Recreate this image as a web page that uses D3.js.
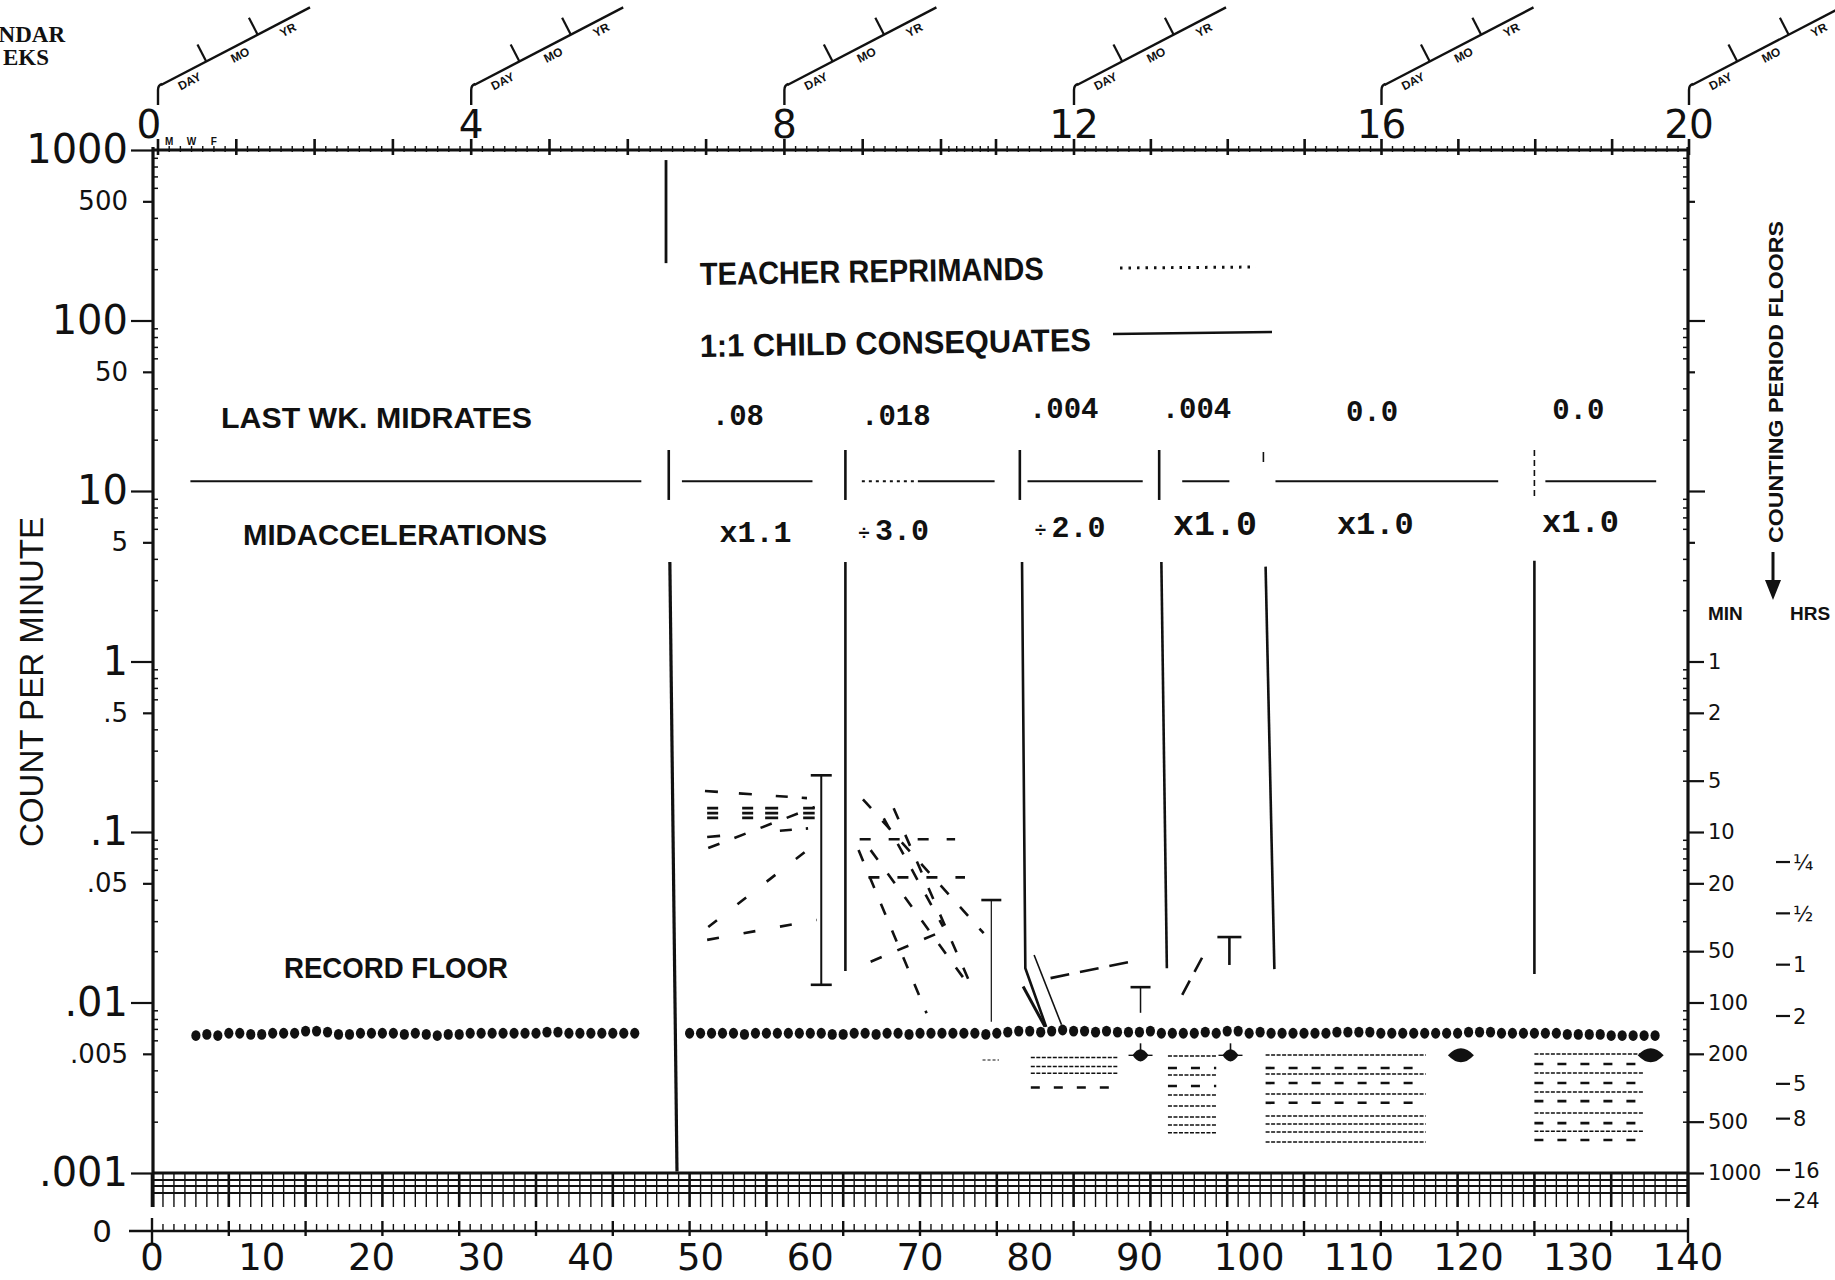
<!DOCTYPE html>
<html>
<head>
<meta charset="utf-8">
<script src="https://cdn.jsdelivr.net/npm/d3@7/dist/d3.min.js"></script>
<style>
  html, body { margin:0; padding:0; background:#fff; }
  svg { display:block; }
</style>
</head>
<body>
<svg id="chart" width="1835" height="1280" xmlns="http://www.w3.org/2000/svg"></svg>
<script>
// ================= DATA =================
// calendar weeks (top axis) and successive days (bottom axis)
const weekLabels = [0, 4, 8, 12, 16, 20];
const dayLabels = [0, 10, 20, 30, 40, 50, 60, 70, 80, 90, 100, 110, 120, 130, 140];
const weekdayLetters = ["M", "W", "F"];
const weekdayDays = [1, 3, 5];

// count-per-minute axis
const decadeValues = [1000, 100, 10, 1, 0.1, 0.01, 0.001];
const decadeLabels = ["1000", "100", "10", "1", ".1", ".01", ".001"];
const halfValues = [500, 50, 5, 0.5, 0.05, 0.005];
const halfLabels = ["500", "50", "5", ".5", ".05", ".005"];

// counting period floors (right axis)
const floorMinValues = [1, 0.5, 0.2, 0.1, 0.05, 0.02, 0.01, 0.005, 0.002, 0.001];
const floorMinLabels = ["1", "2", "5", "10", "20", "50", "100", "200", "500", "1000"];
const floorHrsMinutes = [15, 30, 60, 120, 300, 480, 960, 1440];
const floorHrsLabels = ["¼", "½", "1", "2", "5", "8", "16", "24"];

// record-floor dots (day, count per minute)
const dotDaysA = [4,5,6,7,8,9,10,11,12,13,14,15,16,17,18,19,20,21,22,23,24,25,26,27,28,29,30,31,32,33,34,35,36,37,38,39,40,41,42,43,44];
const dotValsA = [0.0064,0.0065,0.0064,0.0066,0.0066,0.0065,0.0065,0.0066,0.0066,0.0066,
                  0.0068,0.0068,0.0067,0.0065,0.0065,0.0066,0.0066,0.0066,0.0066,0.0065,
                  0.0066,0.0065,0.0064,0.0065,0.0065,0.0066,0.0066,0.0066,0.0066,0.0066,
                  0.0066,0.0066,0.0067,0.0067,0.0066,0.0066,0.0066,0.0066,0.0066,0.0066,
                  0.0066];
const dotDaysB = [49,50,51,52,53,54,55,56,57,58,59,60,61,62,63,64,65,66,67,68,69,70,71,72,73,74,75,76,77,78,
                  79,80,81,82,83,84,85,86,87,88,89,90,91,92,93,94,95,96,97,98,99,100,101,102,103,104,105,106,107,108,
                  109,110,111,112,113,114,115,116,117,118,119,120,121,122,123,124,125,126,127,128,129,130,131,132,133,134,135,136,137];
const dotValsB = [0.0066,0.0066,0.0066,0.0066,0.0066,0.0065,0.0066,0.0066,0.0066,0.0066,
                  0.0066,0.0066,0.0066,0.0065,0.0065,0.0066,0.0066,0.0065,0.0066,0.0066,
                  0.0065,0.0066,0.0066,0.0066,0.0066,0.0066,0.0066,0.0065,0.0066,0.0067,
                  0.0068,0.0068,0.0067,0.0068,0.0069,0.0068,0.0068,0.0067,0.0068,0.0067,
                  0.0067,0.0067,0.0068,0.0066,0.0066,0.0066,0.0066,0.0067,0.0066,0.0068,
                  0.0068,0.0066,0.0067,0.0066,0.0066,0.0066,0.0066,0.0066,0.0066,0.0067,
                  0.0067,0.0067,0.0067,0.0066,0.0066,0.0066,0.0066,0.0066,0.0066,0.0066,
                  0.0066,0.0067,0.0067,0.0067,0.0066,0.0066,0.0066,0.0066,0.0066,0.0066,
                  0.0065,0.0065,0.0065,0.0065,0.0064,0.0064,0.0064,0.0064,0.0064];

// counting-period floor marks
const floorMarkDays = [90.1, 98.3, 119.3, 136.6];
const floorMarkVals = [0.0049, 0.0049, 0.0049, 0.0049];

// range bars (day, high, low)
const rangeDays = [61.0, 76.5, 90.1, 98.2];
const rangeHigh = [0.215, 0.0399, 0.0123, 0.0242];
const rangeLow  = [0.0127, 0.0077, 0.0087, 0.0166];

// phase change lines
const phaseLineUpper = [[46.85, 873], [46.85, 217]];
const phaseLinesLower = [
  [[47.2, 3.83], [47.85, 0.00102]],
  [[63.2, 3.83], [63.2, 0.0153]],
  [[79.3, 3.83], [79.6, 0.0159], [81.5, 0.0072]],
  [[92.0, 3.83], [92.5, 0.0159]],
  [[101.5, 3.6], [102.3, 0.0157]],
  [[126.0, 3.9], [126.0, 0.0147]]
];
const phaseZigzag = [
  [[79.4, 0.0124], [81.4, 0.0072]],
  [[80.4, 0.0190], [82.9, 0.0074]]
];
const phaseChangeDays = [47.1, 63.2, 79.1, 91.8, 101.3, 126.0];
const separatorTop = 17.4, separatorBottom = 8.86;

// midrate row
const midrateSegments = [[3.5, 44.6], [48.3, 60.2], [64.7, 76.8], [79.8, 90.3], [93.9, 98.2], [102.4, 122.7], [127.0, 137.1]];
const midrateLineValue = 11.4;
const midrateLabels = [".08", ".018", ".004", ".004", "0.0", "0.0"];
const midrateLabelDays = [53.4, 67.8, 83.1, 95.2, 111.2, 130.0];
const accelSign = ["x", "÷", "÷", "x", "x", "x"];
const accelValue = ["1.1", "3.0", "2.0", "1.0", "1.0", "1.0"];
const accelLabelDays = [55.0, 67.6, 83.7, 96.9, 111.5, 130.2];

// dashed trend lines, phase 1 (days 50-61)
const phase1Lines = [
  [[50.4, 0.174], [59.7, 0.158]],
  [[50.6, 0.138], [60.4, 0.138]],
  [[50.6, 0.129], [60.4, 0.129]],
  [[50.6, 0.121], [60.4, 0.121]],
  [[50.6, 0.0935], [59.8, 0.105]],
  [[50.7, 0.0806], [60.4, 0.140]],
  [[50.7, 0.0277], [60.9, 0.0897]],
  [[50.6, 0.0233], [60.6, 0.0305]]
];
// dashed trend lines, phase 2 (days 64-76)
const phase2Lines = [
  [[64.8, 0.1556], [75.8, 0.0255]],
  [[67.6, 0.1377], [74.9, 0.01157]],
  [[64.4, 0.0783], [70.6, 0.00865]],
  [[65.5, 0.0783], [74.1, 0.01355]],
  [[64.5, 0.0906], [73.2, 0.0906]],
  [[65.3, 0.0542], [74.1, 0.0542]],
  [[65.5, 0.01735], [72.3, 0.0266]],
  [[66.7, 0.1202], [72.1, 0.0279]]
];
const phase3Lines = [[[81.9, 0.0139], [89.1, 0.0173]]];
const phase4Lines = [[[93.9, 0.0111], [95.9, 0.0193]]];

// rows below the record floor (R = reprimand dotted, C = consequate dashed)
const floorRowRanges = [[80.1, 88.0], [92.6, 97.0], [101.5, 116.1], [126.0, 135.9]];
const floorRowValues = [
  [0.00475, 0.00421, 0.00385, 0.00317],
  [0.00485, 0.00413, 0.00376, 0.00324, 0.00287, 0.00247, 0.00213, 0.00191, 0.00172],
  [0.00492, 0.00413, 0.00381, 0.00337, 0.00291, 0.00258, 0.00216, 0.00194, 0.00174, 0.00152],
  [0.00499, 0.00436, 0.00386, 0.00337, 0.00299, 0.00264, 0.00225, 0.00196, 0.00176, 0.00156]
];
const floorRowKinds = [
  ["R", "R", "R", "C"],
  ["R", "C", "R", "C", "R", "R", "R", "R", "R"],
  ["R", "C", "R", "C", "R", "C", "R", "R", "R", "R"],
  ["R", "C", "R", "C", "R", "C", "R", "C", "R", "C"]
];

// ================= LAYOUT =================
const INK = "#111";
const plotLeft = 153, plotRight = 1688, plotTop = 150;
const gridBottom = 1207, zeroY = 1231;
const gridLines = [1173, 1180, 1186, 1193];

const x = d3.scaleLinear().domain([0, 140]).range([152, 1688]);
const xWeek = d3.scaleLinear().domain([0, 10, 11, 12, 20]).range([158, 941, 996, 1074, 1689]);
const y = d3.scaleLog().domain([1000, 0.001]).range([150, 1173]);
const line = d3.line().x(d => x(d[0])).y(d => y(d[1]));

const svg = d3.select("#chart");
svg.append("rect").attr("width", 1835).attr("height", 1280).attr("fill", "#fff");

const NUMFONT = "DejaVu Sans";
const SANS = "Liberation Sans, Arial, sans-serif";
const MONO = "Liberation Mono, Courier New, monospace";

function styleAxis(g, fontSize, family) {
  g.select(".domain").remove();
  g.selectAll(".tick line").attr("stroke", INK).attr("stroke-width", 2.2);
  g.selectAll(".tick text").attr("fill", INK).attr("font-family", family || NUMFONT).attr("font-size", fontSize);
}

// ---------- calendar header (title cropped at the left edge in the source) ----------
svg.append("text").attr("x", 65).attr("y", 42).attr("text-anchor", "end")
  .attr("font-family", "Liberation Serif, Times New Roman, serif").attr("font-weight", "bold")
  .attr("font-size", 23).attr("fill", INK).text("NDAR");
svg.append("text").attr("x", 49).attr("y", 65).attr("text-anchor", "end")
  .attr("font-family", "Liberation Serif, Times New Roman, serif").attr("font-weight", "bold")
  .attr("font-size", 23).attr("fill", INK).text("EKS");

weekLabels.forEach(w => {
  const x0 = xWeek(w);
  svg.append("path").attr("d", `M${x0},105 L${x0},90 Q${x0},85 ${x0 + 4},84`)
    .attr("fill", "none").attr("stroke", INK).attr("stroke-width", 2.4);
  const g = svg.append("g").attr("transform", `translate(${x0 + 3},85) rotate(-27.5)`);
  g.append("line").attr("x1", 0).attr("y1", 0).attr("x2", 168).attr("y2", 0)
    .attr("stroke", INK).attr("stroke-width", 2.4);
  [51, 109].forEach(u => g.append("line").attr("x1", u).attr("y1", 0).attr("x2", u).attr("y2", -19)
    .attr("stroke", INK).attr("stroke-width", 2.2));
  [["DAY", 27], ["MO", 84], ["YR", 138]].forEach(([t, u]) =>
    g.append("text").attr("x", u).attr("y", 14).attr("text-anchor", "middle")
      .attr("font-family", SANS).attr("font-weight", "bold").attr("font-size", 12)
      .attr("fill", INK).text(t));
  svg.append("text").attr("x", w === 0 ? x0 - 9 : x0).attr("y", 138).attr("text-anchor", "middle")
    .attr("font-family", NUMFONT).attr("font-size", 39).attr("fill", INK).text(w);
});

// top axis: week ticks and day ticks
const topAxisDays = d3.range(0, 141);
svg.append("g").selectAll("line").data(topAxisDays).join("line")
  .attr("x1", d => xWeek(d / 7)).attr("x2", d => xWeek(d / 7))
  .attr("y1", d => d % 7 === 0 ? 139 : 146).attr("y2", d => d % 7 === 0 ? 155 : 152)
  .attr("stroke", INK).attr("stroke-width", d => d % 7 === 0 ? 2.6 : 1.4);
svg.append("line").attr("x1", plotLeft).attr("x2", plotRight).attr("y1", plotTop).attr("y2", plotTop)
  .attr("stroke", INK).attr("stroke-width", 3);
weekdayLetters.forEach((t, i) => svg.append("text").attr("x", xWeek(weekdayDays[i] / 7)).attr("y", 145)
  .attr("text-anchor", "middle").attr("font-family", SANS).attr("font-weight", "bold")
  .attr("font-size", 10).attr("fill", INK).text(t));

// ---------- left axis ----------
const axL = svg.append("g").attr("transform", `translate(${plotLeft},0)`)
  .call(d3.axisLeft(y).tickValues(decadeValues).tickSize(22).tickSizeOuter(0).tickPadding(3)
    .tickFormat((d, i) => decadeLabels[i]));
styleAxis(axL, 40);
const axL2 = svg.append("g").attr("transform", `translate(${plotLeft},0)`)
  .call(d3.axisLeft(y).tickValues(halfValues).tickSize(10).tickSizeOuter(0).tickPadding(15)
    .tickFormat((d, i) => halfLabels[i]));
styleAxis(axL2, 26);
const minorVals = [];
for (let e = -3; e < 3; e++) for (const m of [2, 3, 4, 6, 7, 8, 9]) minorVals.push(m * Math.pow(10, e));
const axLm = svg.append("g").attr("transform", `translate(${plotLeft},0)`)
  .call(d3.axisRight(y).tickValues(minorVals).tickSize(5).tickSizeOuter(0).tickFormat(""));
styleAxis(axLm, 1); axLm.selectAll(".tick line").attr("stroke-width", 1.5);
svg.append("line").attr("x1", plotLeft).attr("x2", plotLeft).attr("y1", plotTop - 3).attr("y2", gridBottom)
  .attr("stroke", INK).attr("stroke-width", 3.2);

svg.append("text").attr("transform", "translate(43,682) rotate(-90)").attr("text-anchor", "middle")
  .attr("font-family", SANS).attr("font-size", 33).attr("textLength", 330).attr("lengthAdjust", "spacingAndGlyphs")
  .attr("fill", INK).text("COUNT PER MINUTE");

// ---------- right axis ----------
const axR = svg.append("g").attr("transform", `translate(${plotRight},0)`)
  .call(d3.axisRight(y).tickValues(floorMinValues).tickSize(16).tickSizeOuter(0).tickPadding(4)
    .tickFormat((d, i) => floorMinLabels[i]));
styleAxis(axR, 21);
const axR2 = svg.append("g").attr("transform", `translate(${plotRight},0)`)
  .call(d3.axisRight(y).tickValues([100, 10]).tickSize(17).tickSizeOuter(0).tickFormat(""));
styleAxis(axR2, 1);
const axR3 = svg.append("g").attr("transform", `translate(${plotRight},0)`)
  .call(d3.axisRight(y).tickValues([500, 50, 5]).tickSize(7).tickSizeOuter(0).tickFormat(""));
styleAxis(axR3, 1);
const axRm = svg.append("g").attr("transform", `translate(${plotRight},0)`)
  .call(d3.axisLeft(y).tickValues(minorVals).tickSize(5).tickSizeOuter(0).tickFormat(""));
styleAxis(axRm, 1); axRm.selectAll(".tick line").attr("stroke-width", 1.5);
svg.append("line").attr("x1", plotRight).attr("x2", plotRight).attr("y1", plotTop - 3).attr("y2", gridBottom)
  .attr("stroke", INK).attr("stroke-width", 3.2);

floorHrsMinutes.forEach((m, i) => {
  const yy = y(1 / m);
  svg.append("line").attr("x1", 1776).attr("x2", 1790).attr("y1", yy).attr("y2", yy)
    .attr("stroke", INK).attr("stroke-width", 2.2);
  svg.append("text").attr("x", 1793).attr("y", yy).attr("dy", "0.36em")
    .attr("font-family", NUMFONT).attr("font-size", 21).attr("fill", INK).text(floorHrsLabels[i]);
});
svg.append("text").attr("x", 1708).attr("y", 620).attr("font-family", SANS).attr("font-weight", "bold")
  .attr("font-size", 19).attr("fill", INK).text("MIN");
svg.append("text").attr("x", 1790).attr("y", 620).attr("font-family", SANS).attr("font-weight", "bold")
  .attr("font-size", 19).attr("fill", INK).text("HRS");
svg.append("text").attr("transform", "translate(1783,382) rotate(-90)").attr("text-anchor", "middle")
  .attr("font-family", SANS).attr("font-weight", "bold").attr("font-size", 21).attr("textLength", 322)
  .attr("lengthAdjust", "spacingAndGlyphs").attr("fill", INK).text("COUNTING PERIOD FLOORS");
svg.append("line").attr("x1", 1773).attr("x2", 1773).attr("y1", 552).attr("y2", 585)
  .attr("stroke", INK).attr("stroke-width", 3);
svg.append("path").attr("d", "M1765,580 L1781,580 L1773,600 Z").attr("fill", INK);

// ---------- bottom grid and zero axis ----------
const gridDays = d3.range(0, 141);
svg.append("g").selectAll("line").data(gridDays).join("line")
  .attr("x1", d => x(d)).attr("x2", d => x(d)).attr("y1", gridLines[0]).attr("y2", gridBottom)
  .attr("stroke", INK).attr("stroke-width", d => d % 7 === 0 ? 2.6 : 1.4);
gridLines.forEach((gy, i) => svg.append("line").attr("x1", plotLeft).attr("x2", plotRight)
  .attr("y1", gy).attr("y2", gy).attr("stroke", INK).attr("stroke-width", i === 0 ? 3 : 1.8));

svg.append("line").attr("x1", 129).attr("x2", plotRight).attr("y1", zeroY).attr("y2", zeroY)
  .attr("stroke", INK).attr("stroke-width", 2.6);
svg.append("g").selectAll("line").data(gridDays).join("line")
  .attr("x1", d => x(d)).attr("x2", d => x(d))
  .attr("y1", d => (d === 0 || d === 140) ? 1218 : d % 7 === 0 ? 1221 : 1224)
  .attr("y2", d => (d === 0 || d === 140) ? 1243 : d % 7 === 0 ? 1236 : zeroY)
  .attr("stroke", INK).attr("stroke-width", d => d % 7 === 0 ? 2.4 : 1.4);
svg.append("text").attr("x", 102).attr("y", zeroY).attr("dy", "0.36em").attr("text-anchor", "middle")
  .attr("font-family", NUMFONT).attr("font-size", 31).attr("fill", INK).text("0");
svg.append("g").selectAll("text").data(dayLabels).join("text")
  .attr("x", d => x(d)).attr("y", 1270).attr("text-anchor", "middle")
  .attr("font-family", NUMFONT).attr("font-size", 37).attr("fill", INK).text(d => d);

// ---------- legend and titles ----------
function label(t, xx, yy, size, len, rot) {
  const el = svg.append("text").attr("x", xx).attr("y", yy)
    .attr("font-family", SANS).attr("font-weight", "bold").attr("font-size", size)
    .attr("fill", INK).attr("textLength", len).attr("lengthAdjust", "spacingAndGlyphs").text(t);
  if (rot) el.attr("transform", `rotate(${rot},${xx},${yy})`);
  return el;
}
label("TEACHER REPRIMANDS", 700, 285, 32, 344, -0.9);
label("1:1 CHILD CONSEQUATES", 700, 357, 32, 391, -0.9);
label("LAST WK. MIDRATES", 221, 428, 29, 311);
label("MIDACCELERATIONS", 243, 545, 29, 304);
label("RECORD FLOOR", 284, 978, 29, 224);
svg.append("line").attr("x1", 1120).attr("x2", 1256).attr("y1", 268).attr("y2", 267)
  .attr("stroke", INK).attr("stroke-width", 3).attr("stroke-dasharray", "2.5,6");
svg.append("line").attr("x1", 1113).attr("x2", 1272).attr("y1", 334).attr("y2", 332)
  .attr("stroke", INK).attr("stroke-width", 2.6);

// ---------- phase lines ----------
svg.append("line").attr("x1", x(phaseLineUpper[0][0])).attr("x2", x(phaseLineUpper[1][0]))
  .attr("y1", y(phaseLineUpper[0][1])).attr("y2", y(phaseLineUpper[1][1]))
  .attr("stroke", INK).attr("stroke-width", 2.8);
svg.append("g").selectAll("path").data(phaseLinesLower).join("path")
  .attr("d", line).attr("fill", "none").attr("stroke", INK)
  .attr("stroke-width", (d, i) => i === 0 ? 3.2 : 2.6);
svg.append("g").selectAll("path").data(phaseZigzag).join("path")
  .attr("d", line).attr("fill", "none").attr("stroke", INK)
  .attr("stroke-width", (d, i) => i === 0 ? 3 : 1.6);
svg.append("g").selectAll("line").data(phaseChangeDays).join("line")
  .attr("x1", d => x(d)).attr("x2", d => x(d))
  .attr("y1", (d, i) => i === 4 ? y(separatorTop) + 2 : y(separatorTop))
  .attr("y2", (d, i) => i === 4 ? y(separatorTop) + 12 : y(separatorBottom))
  .attr("stroke", INK).attr("stroke-width", (d, i) => i >= 4 ? 1.6 : 2.6)
  .attr("stroke-dasharray", (d, i) => i === 5 ? "6,4" : null);

// midrate row
svg.append("g").selectAll("line").data(midrateSegments).join("line")
  .attr("x1", d => x(d[0])).attr("x2", d => x(d[1]))
  .attr("y1", y(midrateLineValue)).attr("y2", y(midrateLineValue))
  .attr("stroke", INK).attr("stroke-width", 2)
  .attr("stroke-dasharray", (d, i) => i === 2 ? "3,4,3,4,3,4,3,4,3,4,3,4,3,4,3,4,200" : null);
const midrateBaselines = [425, 425, 418, 418, 421, 419];
svg.append("g").selectAll("text").data(midrateLabels).join("text")
  .attr("x", (d, i) => x(midrateLabelDays[i])).attr("y", (d, i) => midrateBaselines[i])
  .attr("text-anchor", "middle").attr("font-family", MONO).attr("font-weight", "bold")
  .attr("font-size", 29).attr("fill", INK).text(d => d);
const accelBaselines = [542, 540, 537, 535, 534, 532];
const accelSizes = [30, 30, 30, 35, 32, 32];
accelValue.forEach((v, i) => {
  const t = svg.append("text").attr("x", x(accelLabelDays[i])).attr("y", accelBaselines[i])
    .attr("text-anchor", "middle").attr("font-family", MONO).attr("font-weight", "bold")
    .attr("font-size", accelSizes[i]).attr("fill", INK);
  if (accelSign[i] === "÷") {
    t.append("tspan").attr("font-size", 20).attr("font-family", SANS).text("÷ ");
    t.append("tspan").text(v);
  } else {
    t.text(accelSign[i] + v);
  }
});

// ---------- data marks ----------
// record floor dots
const dots = dotDaysA.map((d, i) => [d, dotValsA[i]]).concat(dotDaysB.map((d, i) => [d, dotValsB[i]]));
svg.append("g").selectAll("ellipse").data(dots).join("ellipse")
  .attr("cx", d => x(d[0])).attr("cy", d => y(d[1])).attr("rx", 4.6).attr("ry", 5.4).attr("fill", INK);

// floor marks (lens shapes)
floorMarkDays.forEach((d, i) => {
  const cx = x(d), cy = y(floorMarkVals[i]);
  const w = i < 2 ? 16 : 26, h = i < 2 ? 12 : 14;
  svg.append("path").attr("d", `M${cx - w / 2},${cy} Q${cx},${cy - h} ${cx + w / 2},${cy} Q${cx},${cy + h} ${cx - w / 2},${cy} Z`)
    .attr("fill", INK);
  if (i < 2) {
    svg.append("line").attr("x1", cx).attr("x2", cx).attr("y1", cy - 12).attr("y2", cy + 6)
      .attr("stroke", INK).attr("stroke-width", 1.6);
    svg.append("line").attr("x1", cx - 12).attr("x2", cx + 12).attr("y1", cy).attr("y2", cy)
      .attr("stroke", INK).attr("stroke-width", 1.4);
  }
});

// range bars
const rangeWidths = [2, 1.2, 1.5, 2.6];
const capW = [21, 20, 20, 24];
rangeDays.forEach((d, i) => {
  const cx = x(d);
  svg.append("line").attr("x1", cx).attr("x2", cx).attr("y1", y(rangeHigh[i])).attr("y2", y(rangeLow[i]))
    .attr("stroke", INK).attr("stroke-width", rangeWidths[i]);
  svg.append("line").attr("x1", cx - capW[i] / 2).attr("x2", cx + capW[i] / 2)
    .attr("y1", y(rangeHigh[i])).attr("y2", y(rangeHigh[i])).attr("stroke", INK).attr("stroke-width", 2.6);
  if (i === 0) svg.append("line").attr("x1", cx - capW[i] / 2).attr("x2", cx + capW[i] / 2)
    .attr("y1", y(rangeLow[i])).attr("y2", y(rangeLow[i])).attr("stroke", INK).attr("stroke-width", 2.6);
});
// small mark under range bar 2
svg.append("line").attr("x1", x(75.7)).attr("x2", x(77.2)).attr("y1", y(0.0046)).attr("y2", y(0.0046))
  .attr("stroke", INK).attr("stroke-width", 1.2).attr("stroke-dasharray", "3,2");

// dashed trend lines
const p1Dash = ["13,21,13,24,12,14,11", "11,24,11,12,13,25,12", "11,24,11,12,13,25,12", "11,24,11,12,13,25,12",
                "13,60,12,14,12", "12,16", "11,26", "12,25"];
svg.append("g").selectAll("path").data(phase1Lines).join("path")
  .attr("d", line).attr("fill", "none").attr("stroke", INK).attr("stroke-width", 2.6)
  .attr("stroke-dasharray", (d, i) => p1Dash[i]);
svg.append("g").selectAll("path").data(phase2Lines).join("path")
  .attr("d", line).attr("fill", "none").attr("stroke", INK).attr("stroke-width", 2.6)
  .attr("stroke-dasharray", (d, i) => (i === 4 || i === 5) ? "11,18" : "12,17");
svg.append("g").selectAll("path").data(phase3Lines.concat(phase4Lines)).join("path")
  .attr("d", line).attr("fill", "none").attr("stroke", INK).attr("stroke-width", 2.6)
  .attr("stroke-dasharray", (d, i) => i === 0 ? "19,11" : "16,10");

// rows below floor
floorRowRanges.forEach((r, ri) => {
  floorRowValues[ri].forEach((v, k) => {
    const kind = floorRowKinds[ri][k];
    svg.append("line").attr("x1", x(r[0])).attr("x2", x(r[1])).attr("y1", y(v)).attr("y2", y(v))
      .attr("stroke", INK)
      .attr("stroke-width", kind === "C" ? 2.6 : 1.5)
      .attr("stroke-dasharray", kind === "C" ? "9,14" : "4,1.5");
  });
});
</script>
</body>
</html>
